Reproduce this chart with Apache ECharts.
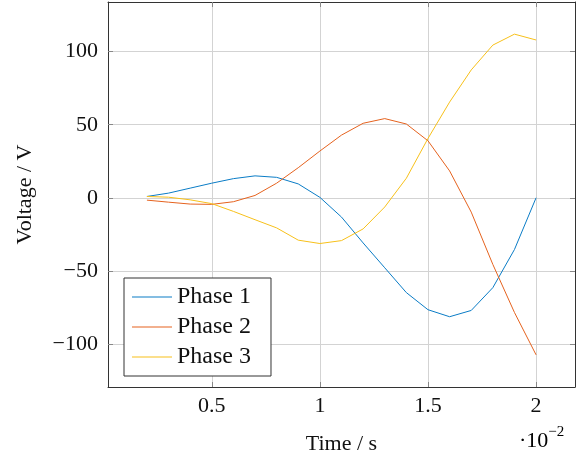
<!DOCTYPE html>
<html><head><meta charset="utf-8">
<script src="https://cdn.jsdelivr.net/npm/echarts@6/dist/echarts.min.js"></script>
<style>html,body{margin:0;padding:0;background:#fff}#c{width:576px;height:461px}</style>
</head><body><div id="c"></div>
<script>
// time in units of 1e-2 s
const time = [0.2,0.3,0.4,0.5,0.6,0.7,0.8,0.9,1.0,1.1,1.2,1.3,1.4,1.5,1.6,1.7,1.8,1.9,2.0];
const phase1 = [0.9,3.2,6.6,10,13.1,15,14,9.5,0.3,-13.2,-30.9,-47.9,-64.9,-76.6,-81.4,-77.1,-61.5,-35.4,0];
const phase2 = [-1.6,-3,-4.3,-4.5,-2.7,1.6,10,20.6,32,42.9,51,54.2,50.5,39,18.4,-9.8,-45.6,-78.5,-107.5];
const phase3 = [0.9,0.4,-1.4,-4,-9.3,-15,-20.6,-29,-31.3,-29.3,-21.3,-6.3,13.4,40.6,65.5,87.5,104.5,112,108];
const seriesNames = ['Phase 1','Phase 2','Phase 3'];
const xTicks = [0.5,1,1.5,2];
const yTicks = [-100,-50,0,50,100];
const xRange = [0.02, 2.18];
const yRange = [-129.5, 134];

const FONT = '"Liberation Serif", serif';
const colors = ['#0A7CC6','#E5621E','#F7C01A'];
const fmtNum = v => (v < 0 ? '\u2212' + Math.abs(v) : String(v));

const chart = echarts.init(document.getElementById('c'), null, {renderer:'canvas'});
const pairs = a => time.map((t,i)=>[t,a[i]]);
const axisLine = {show:true,onZero:false,lineStyle:{color:'#333',width:1}};
const tick = vals => ({show:true,inside:true,length:5,lineStyle:{color:'#888',width:1},customValues:vals});
chart.setOption({
  animation:false,
  textStyle:{fontFamily:FONT},
  grid:{left:108,right:1,top:2,bottom:74,containLabel:false},
  xAxis:[
    {type:'value',position:'bottom',min:xRange[0],max:xRange[1],axisLine:axisLine,
      name:'Time / s',nameLocation:'middle',nameGap:46,
      nameTextStyle:{fontFamily:FONT,fontSize:22,color:'#111'},
      axisTick:tick(xTicks),
      axisLabel:{show:true,customValues:xTicks,fontFamily:FONT,fontSize:22,color:'#111',margin:8,formatter:v=>fmtNum(v)},
      splitLine:{show:true,lineStyle:{color:'#d3d3d3',width:1}}},
    {type:'value',position:'top',min:xRange[0],max:xRange[1],axisLine:axisLine,
      axisTick:tick(xTicks),axisLabel:{show:false},splitLine:{show:false}}
  ],
  yAxis:[
    {type:'value',position:'left',min:yRange[0],max:yRange[1],axisLine:axisLine,
      name:'Voltage / V',nameLocation:'middle',nameGap:72,nameRotate:90,
      nameTextStyle:{fontFamily:FONT,fontSize:22,color:'#111'},
      axisTick:tick(yTicks),
      axisLabel:{show:true,customValues:yTicks,fontFamily:FONT,fontSize:22,color:'#111',margin:10,formatter:v=>fmtNum(v)},
      splitLine:{show:true,lineStyle:{color:'#d3d3d3',width:1}}},
    {type:'value',position:'right',min:yRange[0],max:yRange[1],axisLine:axisLine,
      axisTick:tick(yTicks),axisLabel:{show:false},splitLine:{show:false}}
  ],
  legend:{
    show:true,
    left:124, top:278, orient:'vertical',
    icon:'rect',
    itemWidth:40, itemHeight:1, itemGap:6,
    padding:[7,20,7,8],
    borderColor:'#333', borderWidth:1, borderRadius:0, backgroundColor:'#fff',
    textStyle:{fontFamily:FONT,fontSize:24,color:'#111',lineHeight:24},
    data: seriesNames
  },
  graphic:[{
    type:'text', left:519, top:425,
    style:{text:'{a|\u00B710}{b|\u22122}', rich:{
      a:{fontFamily:FONT,fontSize:22,color:'#111',verticalAlign:'bottom'},
      b:{fontFamily:FONT,fontSize:15,color:'#111',verticalAlign:'top',padding:[0,0,12,0]}}}
  }],
  series: [phase1,phase2,phase3].map((a,i)=>({
    name:seriesNames[i], type:'line', data:pairs(a), symbol:'none',
    xAxisIndex:0, yAxisIndex:0,
    lineStyle:{color:colors[i],width:1}, itemStyle:{color:colors[i]}, z:3
  }))
});
</script></body></html>
